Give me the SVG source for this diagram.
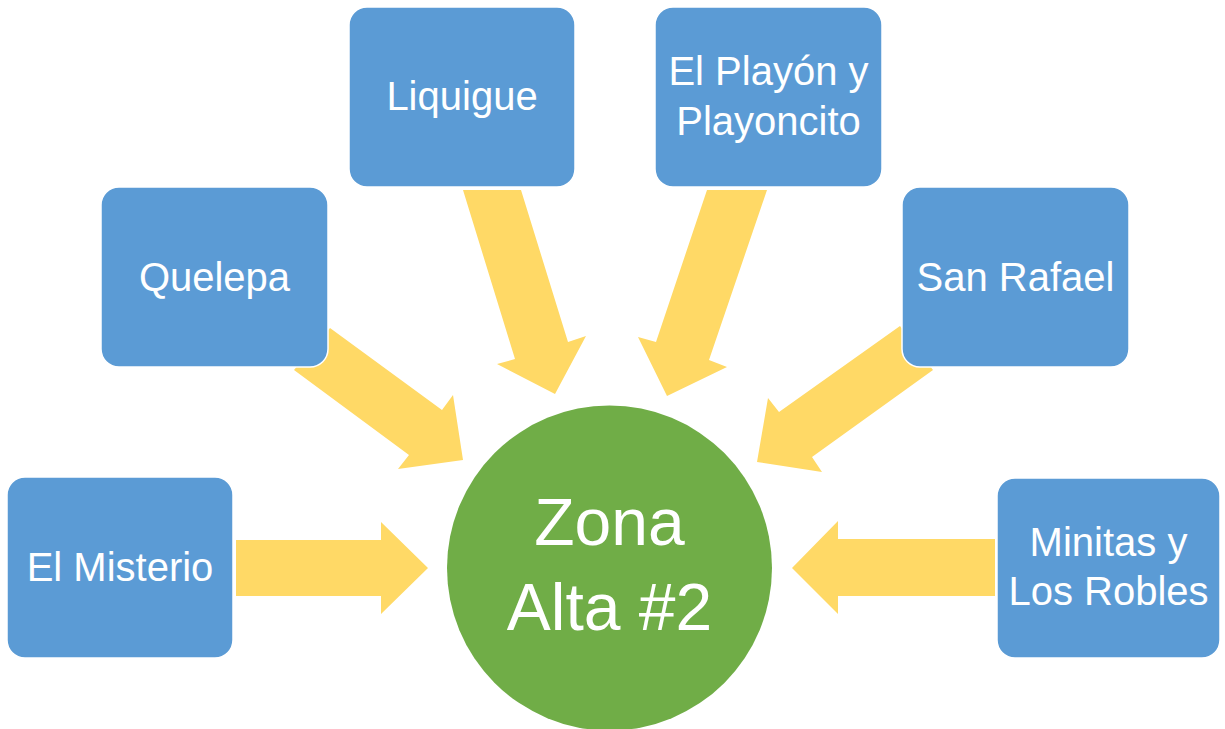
<svg xmlns="http://www.w3.org/2000/svg" width="1225" height="729" viewBox="0 0 1225 729">
<style>
.box{fill:#5B9BD5;stroke:#FFFFFF;stroke-width:1.5}
.arr{fill:#FFD966}
.t{fill:#FFFFFF;font-family:"Liberation Sans",Arial,sans-serif;font-size:40px;text-anchor:middle}
.big{fill:#FFFFFF;font-family:"Liberation Sans",Arial,sans-serif;font-size:66px;text-anchor:middle}
</style>
<rect width="1225" height="729" fill="#FFFFFF"/>
<g id="connectors">
<polygon class="arr" points="236,540 381,540 381,522 428,568 381,614 381,596 236,596"/>
<polygon class="arr" points="995,539 838,539 838,521 792,568 838,614 838,596 995,596"/>
<polygon class="arr" points="330,328 442,410 453,395 463,460 398,469 409,455 294,370"/>
<polygon class="arr" points="900,326 779,412 768,398 757,462 822,472 812,457 933,370"/>
<polygon class="arr" points="463,190 515,359 497,364 555,394 586,336 568,342 521,190"/>
<polygon class="arr" points="707,190 656,342 638,337 667,396 727,367 709,360 767,190"/>
</g>
<g id="center">
<circle cx="609.5" cy="568" r="162.5" fill="#70AD47"/>
<text class="big" x="609.5" y="545">Zona</text>
<text class="big" x="609.5" y="630">Alta #2</text>
</g>
<g id="el-misterio">
<rect class="box" x="7" y="477" width="226" height="181" rx="18"/>
<text class="t" x="120" y="581">El Misterio</text>
</g>
<g id="quelepa">
<rect class="box" x="101" y="187" width="227" height="180" rx="18"/>
<text class="t" x="214.5" y="291">Quelepa</text>
</g>
<g id="liquigue">
<rect class="box" x="349" y="7" width="226" height="180" rx="18"/>
<text class="t" x="462" y="110">Liquigue</text>
</g>
<g id="el-playon">
<rect class="box" x="655" y="7" width="227" height="180" rx="18"/>
<text class="t" x="768.5" y="85">El Playón y</text>
<text class="t" x="768.5" y="135">Playoncito</text>
</g>
<g id="san-rafael">
<rect class="box" x="902" y="187" width="227" height="180" rx="18"/>
<text class="t" x="1015.5" y="291">San Rafael</text>
</g>
<g id="minitas">
<rect class="box" x="997" y="478" width="223" height="180" rx="18"/>
<text class="t" x="1108.5" y="556">Minitas y</text>
<text class="t" x="1108.5" y="605">Los Robles</text>
</g>
</svg>
